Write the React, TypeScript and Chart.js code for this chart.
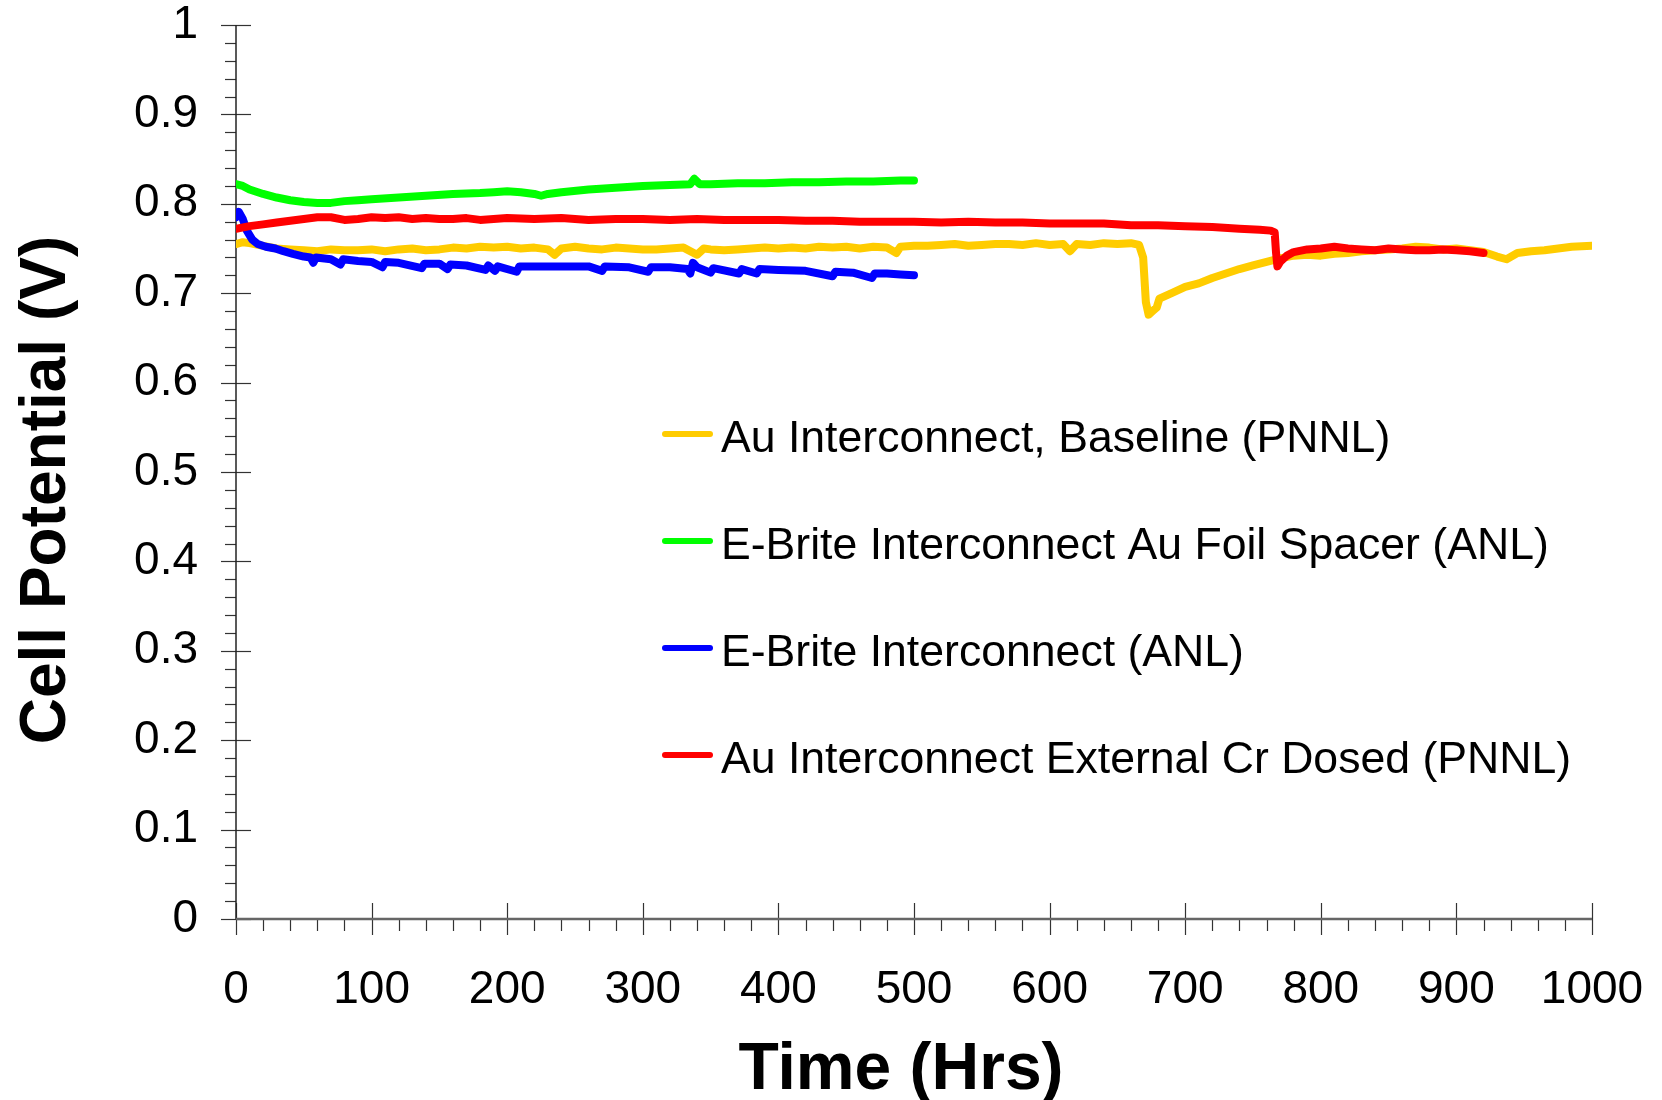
import React, { useEffect, useRef } from "react";
import { Chart, registerables } from "chart.js";

Chart.register(...registerables);

const FONT = '"Liberation Sans", Arial, Helvetica, sans-serif';

// ---------------- data ----------------
const seriesLabels = [
  "Au Interconnect, Baseline (PNNL)",
  "E-Brite Interconnect Au Foil Spacer (ANL)",
  "E-Brite Interconnect (ANL)",
  "Au Interconnect External Cr Dosed (PNNL)",
];
const seriesColors = ["#FFCC00", "#00FF00", "#0000FF", "#FF0000"];

const xTitle = "Time (Hrs)";
const yTitle = "Cell Potential (V)";
const xTickLabels = ["0", "100", "200", "300", "400", "500", "600", "700", "800", "900", "1000"];
const yTickLabels = ["0", "0.1", "0.2", "0.3", "0.4", "0.5", "0.6", "0.7", "0.8", "0.9", "1"];

const baselineHours = [
  0, 5, 10, 20, 30, 40, 50, 60, 70, 80, 90, 100, 110, 120, 130, 140, 150, 160, 170, 180, 190, 200,
  210, 220, 230, 235, 240, 250, 260, 270, 280, 290, 300, 310, 320, 330, 340, 345, 350, 360, 370,
  380, 390, 400, 410, 420, 430, 440, 450, 460, 470, 480, 487, 490, 500, 510, 520, 530, 540, 550,
  560, 570, 580, 590, 600, 610, 615, 620, 630, 640, 650, 660, 666, 669, 671, 673, 676, 679, 681,
  690, 700, 710, 720, 730, 740, 750, 760, 770, 780, 790, 800, 810, 820, 830, 840, 850, 860, 870,
  880, 890, 900, 910, 920, 930, 937, 945, 955, 965, 975, 985, 1000,
];
const baselineVolts = [
  0.755, 0.757, 0.756, 0.753, 0.75, 0.749, 0.748, 0.747, 0.749, 0.748, 0.748, 0.749, 0.747, 0.749,
  0.75, 0.748, 0.749, 0.751, 0.75, 0.752, 0.751, 0.752, 0.75, 0.751, 0.749, 0.743, 0.75, 0.752,
  0.75, 0.749, 0.751, 0.75, 0.749, 0.749, 0.75, 0.751, 0.743, 0.75, 0.749, 0.748, 0.749, 0.75,
  0.751, 0.75, 0.751, 0.75, 0.752, 0.751, 0.752, 0.75, 0.752, 0.751, 0.745, 0.752, 0.753, 0.753,
  0.754, 0.755, 0.753, 0.754, 0.755, 0.755, 0.754, 0.756, 0.754, 0.755, 0.747, 0.755, 0.754,
  0.756, 0.755, 0.756, 0.754, 0.74, 0.69, 0.676, 0.68, 0.684, 0.694, 0.7, 0.707, 0.711, 0.717,
  0.722, 0.727, 0.731, 0.735, 0.739, 0.742, 0.743, 0.742, 0.744, 0.745, 0.747, 0.748, 0.749, 0.75,
  0.752, 0.751, 0.749, 0.75, 0.748, 0.746, 0.741, 0.738, 0.745, 0.747, 0.748, 0.75, 0.752, 0.753,
];

const foilHours = [
  0, 5, 10, 20, 30, 40, 50, 60, 70, 80, 90, 100, 120, 140, 160, 180, 190, 200, 210, 220, 225, 230,
  240, 260, 280, 300, 320, 335, 338, 342, 350, 370, 390, 410, 430, 450, 470, 490, 500,
];
const foilVolts = [
  0.822, 0.82, 0.816, 0.811, 0.807, 0.804, 0.802, 0.801, 0.801, 0.803, 0.804, 0.805, 0.807, 0.809,
  0.811, 0.812, 0.813, 0.814, 0.813, 0.811, 0.809, 0.811, 0.813, 0.816, 0.818, 0.82, 0.821, 0.822,
  0.828, 0.822, 0.822, 0.823, 0.823, 0.824, 0.824, 0.825, 0.825, 0.826, 0.826,
];

const ebriteHours = [
  0, 2, 5, 8, 12, 16, 22, 29, 35, 42, 50, 55, 57, 59, 70, 77, 79, 90, 100, 108, 110, 120, 137, 139,
  150, 156, 158, 170, 184, 186, 191, 193, 207, 209, 220, 240, 260, 270, 272, 290, 304, 306, 320,
  333, 335, 337, 340, 350, 352, 371, 373, 384, 386, 400, 420, 440, 442, 455, 469, 471, 480, 490,
  500,
];
const ebriteVolts = [
  0.785, 0.791, 0.783, 0.77, 0.76, 0.755, 0.752, 0.75, 0.747, 0.744, 0.741, 0.74, 0.734, 0.74,
  0.738, 0.732, 0.738, 0.736, 0.735, 0.729, 0.735, 0.734, 0.728, 0.733, 0.733, 0.727, 0.732, 0.731,
  0.726, 0.731, 0.725, 0.73, 0.724, 0.73, 0.73, 0.73, 0.73, 0.725, 0.73, 0.729, 0.724, 0.729, 0.729,
  0.727, 0.722, 0.734, 0.729, 0.723, 0.728, 0.722, 0.727, 0.722, 0.727, 0.726, 0.725, 0.719, 0.724,
  0.723, 0.717, 0.722, 0.722, 0.721, 0.72,
];

const dosedHours = [
  0, 10, 20, 30, 40, 50, 60, 70, 80, 90, 100, 110, 120, 130, 140, 150, 160, 170, 180, 190, 200, 220,
  240, 260, 280, 300, 320, 340, 360, 380, 400, 420, 440, 460, 480, 500, 520, 540, 560, 580, 600,
  620, 640, 660, 680, 700, 720, 740, 755, 763, 766, 767, 768, 770, 775, 780, 790, 800, 810, 820,
  830, 840, 850, 860, 870, 880, 890, 900, 910, 920,
];
const dosedVolts = [
  0.772, 0.775, 0.777, 0.779, 0.781, 0.783, 0.785, 0.785, 0.782, 0.783, 0.785, 0.784, 0.785, 0.783,
  0.784, 0.783, 0.783, 0.784, 0.782, 0.783, 0.784, 0.783, 0.784, 0.782, 0.783, 0.783, 0.782, 0.783,
  0.782, 0.782, 0.782, 0.781, 0.781, 0.78, 0.78, 0.78, 0.779, 0.78, 0.779, 0.779, 0.778, 0.778,
  0.778, 0.776, 0.776, 0.775, 0.774, 0.772, 0.771, 0.77, 0.768, 0.745, 0.73, 0.735, 0.742, 0.746,
  0.749, 0.75, 0.752, 0.75, 0.749, 0.748, 0.75, 0.749, 0.748, 0.748, 0.749, 0.748, 0.747, 0.745,
];

const seriesHours = [baselineHours, foilHours, ebriteHours, dosedHours];
const seriesVolts = [baselineVolts, foilVolts, ebriteVolts, dosedVolts];
const drawOrder = [3, 2, 1, 0]; // lower = drawn on top

// ---------------- plugins ----------------
const axesPlugin = {
  id: "axesAndTicks",
  beforeDatasetsDraw(chart: any) {
    const { ctx, scales } = chart;
    const xs = scales.x;
    const ys = scales.y;
    const x0 = xs.getPixelForValue(0);
    const x1 = xs.getPixelForValue(1000);
    const y0 = ys.getPixelForValue(0);
    const y1 = ys.getPixelForValue(1);
    ctx.save();
    ctx.lineCap = "butt";
    ctx.strokeStyle = "#333";
    ctx.lineWidth = 1.2;
    for (let i = 0; i <= 50; i++) {
      const py = Math.round(ys.getPixelForValue(i / 50)) + 0.5;
      ctx.beginPath();
      if (i % 5 === 0) {
        ctx.moveTo(x0 - 15, py);
        ctx.lineTo(x0 + 15, py);
      } else {
        ctx.moveTo(x0 - 11, py);
        ctx.lineTo(x0, py);
      }
      ctx.stroke();
    }
    for (let i = 0; i <= 50; i++) {
      const px = Math.round(xs.getPixelForValue(i * 20)) + 0.5;
      ctx.beginPath();
      if (i % 5 === 0) {
        ctx.moveTo(px, y0 - 16);
        ctx.lineTo(px, y0 + 16);
      } else {
        ctx.moveTo(px, y0);
        ctx.lineTo(px, y0 + 12);
      }
      ctx.stroke();
    }
    ctx.strokeStyle = "#222";
    ctx.lineWidth = 1.5;
    ctx.beginPath();
    ctx.moveTo(x0, y1);
    ctx.lineTo(x0, y0);
    ctx.stroke();
    ctx.strokeStyle = "#666";
    ctx.lineWidth = 2.5;
    ctx.beginPath();
    ctx.moveTo(x0, y0);
    ctx.lineTo(x1, y0);
    ctx.stroke();
    ctx.restore();
  },
};

const titlesPlugin = {
  id: "axisTitles",
  afterDraw(chart: any) {
    const { ctx, chartArea } = chart;
    const cx = (chartArea.left + chartArea.right) / 2;
    const cy = (chartArea.top + chartArea.bottom) / 2;
    ctx.save();
    ctx.fillStyle = "#000";
    ctx.textAlign = "center";
    ctx.textBaseline = "alphabetic";
    ctx.font = `bold 66px ${FONT}`;
    ctx.fillText(xTitle, cx - 13, 1065 + 24);
    ctx.font = `bold 64px ${FONT}`;
    ctx.translate(42 + 23, cy + 18);
    ctx.rotate(-Math.PI / 2);
    ctx.fillText(yTitle, 0, 0);
    ctx.restore();
  },
};

const legendPlugin = {
  id: "insideLegend",
  afterDraw(chart: any) {
    const { ctx } = chart;
    const rowY = [436, 543, 650, 757];
    ctx.save();
    ctx.font = `44.6px ${FONT}`;
    ctx.textAlign = "left";
    ctx.textBaseline = "alphabetic";
    seriesLabels.forEach((label, i) => {
      const y = rowY[i];
      ctx.strokeStyle = seriesColors[i];
      ctx.lineWidth = 6;
      ctx.lineCap = "round";
      ctx.beginPath();
      ctx.moveTo(665, y - 2);
      ctx.lineTo(710, y - 2);
      ctx.stroke();
      ctx.fillStyle = "#000";
      ctx.fillText(label, 721, y + 16);
    });
    ctx.restore();
  },
};

export default function App() {
  const canvasRef = useRef<HTMLCanvasElement | null>(null);

  useEffect(() => {
    if (!canvasRef.current) return;
    const datasets = seriesLabels.map((label, i) => ({
      label,
      data: seriesHours[i].map((h, j) => ({ x: h, y: seriesVolts[i][j] })),
      borderColor: seriesColors[i],
      backgroundColor: seriesColors[i],
      borderWidth: 8,
      pointRadius: 0,
      tension: 0,
      fill: false,
      borderCapStyle: "round" as const,
      borderJoinStyle: "round" as const,
      order: drawOrder[i],
    }));

    const chart = new Chart(canvasRef.current, {
      type: "line",
      data: { datasets },
      options: {
        animation: false,
        responsive: false,
        events: [],
        layout: { padding: { top: 25, right: 70, left: 0, bottom: 0 } },
        plugins: {
          legend: { display: false },
          tooltip: { enabled: false },
        },
        scales: {
          x: {
            type: "linear",
            min: 0,
            max: 1000,
            grid: { display: false, drawTicks: true, tickLength: 44 },
            border: { display: false },
            ticks: {
              stepSize: 100,
              padding: 0,
              color: "#000",
              maxRotation: 0,
              font: { family: FONT, size: 46, lineHeight: 1.2 },
              callback: (_v: any, idx: number) => xTickLabels[idx],
            },
            title: { display: false },
            afterFit: (scale: any) => {
              scale.height = 181;
            },
          },
          y: {
            type: "linear",
            min: 0,
            max: 1,
            grid: { display: false, drawTicks: true, tickLength: 38 },
            border: { display: false },
            ticks: {
              stepSize: 0.1,
              padding: 0,
              color: "#000",
              font: { family: FONT, size: 46, lineHeight: 1 },
              callback: (_v: any, idx: number) => yTickLabels[idx],
            },
            title: { display: false },
            afterFit: (scale: any) => {
              scale.width = 236;
            },
          },
        },
      },
      plugins: [axesPlugin, titlesPlugin, legendPlugin],
    });
    return () => chart.destroy();
  }, []);

  return (
    <div style={{ position: "absolute", left: 0, top: 0, width: 1662, height: 1100, background: "#fff" }}>
      <canvas ref={canvasRef} width={1662} height={1100} style={{ display: "block" }} />
    </div>
  );
}
